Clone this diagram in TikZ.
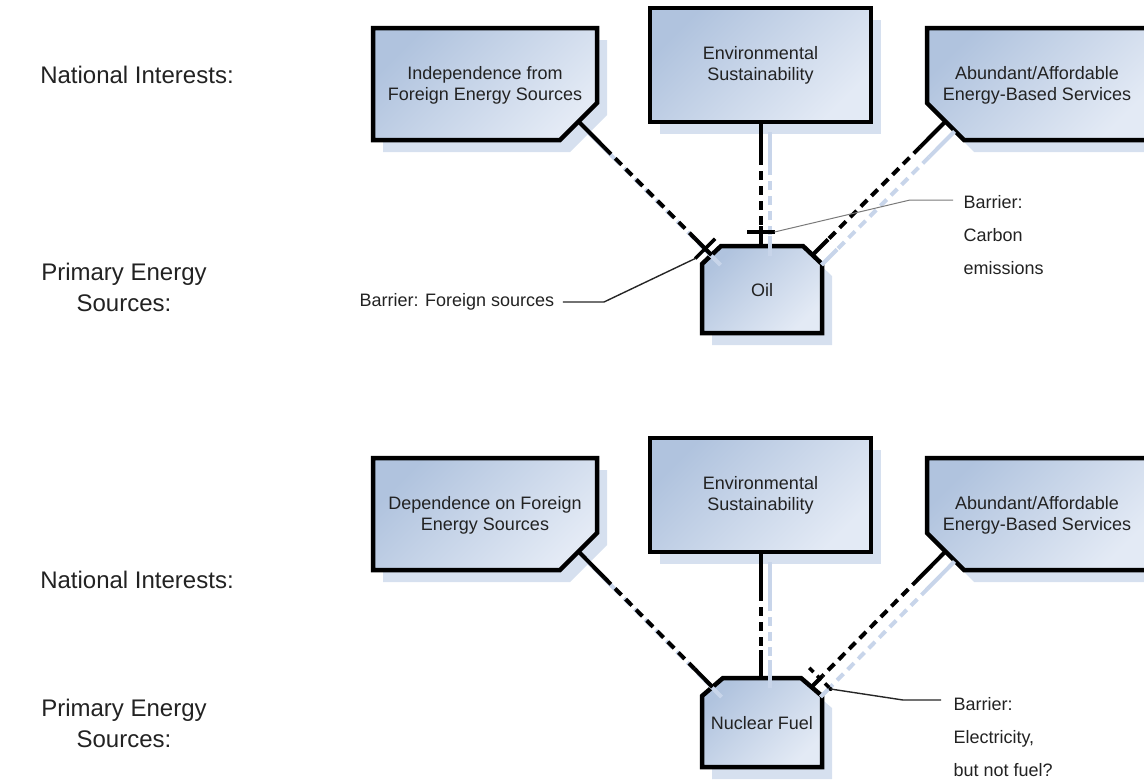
\documentclass[tikz,border=0pt]{standalone}
\usepackage{fontspec}
\setmainfont{Liberation Sans}
\usetikzlibrary{calc}

\definecolor{boxtop}{HTML}{B0C3DE}
\definecolor{boxbot}{HTML}{E3EAF5}
\definecolor{shadowblue}{HTML}{D6E0EF}
\definecolor{linkshadow}{HTML}{C8D5EA}
\definecolor{inktext}{HTML}{222222}
\definecolor{calloutgray}{HTML}{7A7A7A}

\tikzset{
  boxshadow/.style={fill=shadowblue, draw=none},
  boxbody/.style={draw=black, line width=4.5pt, line join=miter,
    top color=boxtop, bottom color=boxbot, shading angle=45},
  boxtext/.style={font=\fontsize{18}{21}\selectfont, text=inktext, align=center},
  sidelabel/.style={font=\fontsize{24}{31}\selectfont, text=inktext, align=center},
  notetext/.style={font=\fontsize{18}{33}\selectfont, text=inktext, align=left, anchor=west},
  linkline/.style={line width=4pt, draw=black},
  linkshade/.style={line width=4pt, draw=linkshadow},
  gapped/.style={dash pattern=on 9pt off 6pt},
  barsolid/.style={line width=3.5pt, draw=black},
  bardashed/.style={line width=3.5pt, draw=black, dash pattern=on 6pt off 5pt},
  callout/.style={line width=1.4pt, draw=black!85},
  calloutlight/.style={line width=1pt, draw=calloutgray},
}

% solid stub, dashed run, solid stub
\newcommand\linkdraw[5]{%
  \draw[#1] (#2) -- ($(#2)!#4!(#3)$);
  \draw[#1,gapped] ($(#2)!#4!(#3)$) -- ($(#3)!#5!(#2)$);
  \draw[#1] ($(#3)!#5!(#2)$) -- (#3);
}

% box outlines
\newcommand\shpIndep{(373,28) -- (597,28) -- (597,103) -- (560,140) -- (373,140) -- cycle}
\newcommand\shpEnv{(650,8) -- (871,8) -- (871,122) -- (650,122) -- cycle}
\newcommand\shpServ{(927,28) -- (1149,28) -- (1149,140) -- (964,140) -- (927,103) -- cycle}
\newcommand\shpSrc{(702,264) -- (721,246) -- (803,246) -- (822,264) -- (822,333) -- (702,333) -- cycle}

\begin{document}
\begin{tikzpicture}[x=1pt, y=-1pt]
\useasboundingbox (0,0) rectangle (1144,782);
\clip (0,0) rectangle (1144,782);

% ---------- upper panel: oil ----------
\begin{scope}
  \path[boxshadow, shift={(10,12)}] \shpIndep;
  \path[boxshadow, shift={(10,12)}] \shpEnv;
  \path[boxshadow, shift={(10,12)}] \shpServ;
  \path[boxshadow, shift={(10,12)}] \shpSrc;
  \path[boxbody] \shpIndep;
  \path[boxbody] \shpEnv;
  \path[boxbody] \shpServ;
  \path[boxbody] \shpSrc;

  \coordinate (iA) at (578.5,121.5);
  \coordinate (eA) at (760.5,122);
  \coordinate (sA) at (945.5,121.5);
  \coordinate (oL) at (711.5,255);
  \coordinate (oT) at (760.5,246);
  \coordinate (oR) at (812.5,255);

  \begin{scope}[transform canvas={shift={(9,10)}}]
    \linkdraw{linkshade}{iA}{oL}{37pt}{24pt}
    \linkdraw{linkshade}{eA}{oT}{34pt}{20pt}
    \linkdraw{linkshade}{sA}{oR}{36pt}{22pt}
  \end{scope}
  \linkdraw{linkline}{iA}{oL}{37pt}{24pt}
  \linkdraw{linkline}{eA}{oT}{34pt}{20pt}
  \linkdraw{linkline}{sA}{oR}{36pt}{22pt}

  % barrier marks
  \coordinate (xL) at ($(oL)!9pt!(iA)$);
  \coordinate (xL1) at ($(xL)!14pt!90:(oL)$);
  \coordinate (xL2) at ($(xL)!14pt!-90:(oL)$);
  \draw[barsolid] (xL1) -- (xL2);
  \coordinate (xT) at ($(oT)!14pt!(eA)$);
  \coordinate (xT1) at ($(xT)!14pt!90:(oT)$);
  \coordinate (xT2) at ($(xT)!14pt!-90:(oT)$);
  \draw[barsolid] (xT1) -- (xT2);

  \node[boxtext] (indep) at (485,85) {Independence from\\Foreign Energy Sources};
  \node[boxtext] (env) at (760.5,65) {Environmental\\Sustainability};
  \node[boxtext] (serv) at (1037,85) {Abundant/Affordable\\Energy-Based Services};
  \node[boxtext] (oil) at (762,290) {Oil};

  % callouts
  \node[notetext] (noteFor) at (356,302) {Barrier: Foreign sources};
  \coordinate (kFor) at (604,302);
  \draw[callout] ([xshift=5pt]noteFor.east) -- (kFor) -- (xL2);
  \node[notetext, anchor=north west] (noteCarb) at (960,192) {Barrier:\\Carbon\\emissions};
  \coordinate (kCarb) at (910,200);
  \coordinate (kCarbEnd) at (953,200);
  \draw[calloutlight] (xT1) -- (kCarb) -- (kCarbEnd);

  \node[sidelabel] (ni1) at (137,75) {National Interests:};
  \node[sidelabel] (pe1) at (124,287) {Primary Energy\\Sources:};
\end{scope}

% ---------- lower panel: nuclear ----------
\begin{scope}
  \begin{scope}[shift={(0,430)}]
    \path[boxshadow, shift={(10,12)}] \shpIndep;
    \path[boxshadow, shift={(10,12)}] \shpEnv;
    \path[boxshadow, shift={(10,12)}] \shpServ;
    \path[boxshadow, shift={(10,12)}] (702,266) -- (723,248) -- (801,248) -- (822,266) -- (822,337) -- (702,337) -- cycle;
    \path[boxbody] \shpIndep;
    \path[boxbody] \shpEnv;
    \path[boxbody] \shpServ;
    \path[boxbody] (702,266) -- (723,248) -- (801,248) -- (822,266) -- (822,337) -- (702,337) -- cycle;
  \end{scope}

  \coordinate (iB) at (578.5,551.5);
  \coordinate (eB) at (760.5,552);
  \coordinate (sB) at (945.5,551.5);
  \coordinate (nL) at (712.5,687);
  \coordinate (nT) at (760.5,678);
  \coordinate (nR) at (811.5,687);

  \begin{scope}[transform canvas={shift={(9,10)}}]
    \linkdraw{linkshade}{iB}{nL}{37pt}{26pt}
    \linkdraw{linkshade}{eB}{nT}{40pt}{28pt}
    \linkdraw{linkshade}{sB}{nR}{38pt}{16pt}
  \end{scope}
  \linkdraw{linkline}{iB}{nL}{37pt}{26pt}
  \linkdraw{linkline}{eB}{nT}{40pt}{28pt}
  \linkdraw{linkline}{sB}{nR}{38pt}{16pt}

  % barrier mark
  \coordinate (xR) at ($(nR)!12pt!(sB)$);
  \coordinate (xR1) at ($(xR)!15pt!90:(nR)$);
  \coordinate (xR2) at ($(xR)!15pt!-90:(nR)$);
  \draw[bardashed] (xR2) -- (xR1);

  \node[boxtext] (dep) at (485,515) {Dependence on Foreign\\Energy Sources};
  \node[boxtext] (env2) at (760.5,495) {Environmental\\Sustainability};
  \node[boxtext] (serv2) at (1037,515) {Abundant/Affordable\\Energy-Based Services};
  \node[boxtext] (nuc) at (762,723) {Nuclear Fuel};

  \node[notetext, anchor=north west] (noteElec) at (950,694) {Barrier:\\Electricity,\\but not fuel?};
  \coordinate (kElec) at (903,700);
  \coordinate (kElecEnd) at (941,700);
  \fill (xR1) circle (2pt);
  \draw[callout] (xR1) -- (kElec) -- (kElecEnd);

  \node[sidelabel] (ni2) at (137,580) {National Interests:};
  \node[sidelabel] (pe2) at (124,723) {Primary Energy\\Sources:};
\end{scope}
\end{tikzpicture}
\end{document}
